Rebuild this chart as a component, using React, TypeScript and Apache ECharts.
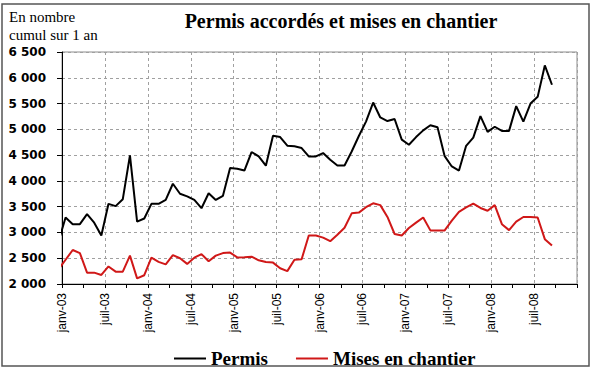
import React, { useEffect, useRef } from "react";
import * as echarts from "echarts";

const monthNames = ["janv", "févr", "mars", "avr", "mai", "juin", "juil", "août", "sept", "oct", "nov", "déc"];

// Months from déc-02 to sept-08 (70 months)
const months: string[] = [];
for (let k = 0; k < 70; k++) {
  const m = (11 + k) % 12;
  const y = 2 + Math.floor((11 + k) / 12);
  months.push(`${monthNames[m]}-${String(y).padStart(2, "0")}`);
}

const xTickLabels = [
  "janv-03", "juil-03", "janv-04", "juil-04", "janv-05", "juil-05",
  "janv-06", "juil-06", "janv-07", "juil-07", "janv-08", "juil-08",
];

const permis = [
  2820,
  3290, 3160, 3160, 3355, 3190, 2940, 3555, 3510, 3645, 4495,
  3210, 3270, 3555, 3555, 3630, 3945, 3750, 3700, 3630, 3470,
  3760, 3630, 3710, 4250, 4235, 4200, 4560, 4475, 4295, 4877,
  4850, 4683, 4670, 4637, 4475, 4475, 4540, 4410, 4300, 4300,
  4570, 4870, 5150, 5520, 5230, 5160, 5200, 4800, 4700, 4850,
  4980, 5080, 5040, 4480, 4280, 4200, 4680, 4840, 5255, 4950,
  5050, 4970, 4970, 5450, 5150, 5500, 5630, 6240, 5865,
];

const mises = [
  2280,
  2470, 2660, 2600, 2220, 2220, 2175, 2340, 2240, 2240, 2550,
  2110, 2170, 2510, 2430, 2380, 2560, 2500, 2390, 2510, 2580,
  2440, 2550, 2600, 2610, 2515, 2520, 2530, 2460, 2425, 2415,
  2305, 2250, 2470, 2480, 2940, 2940, 2900, 2830, 2955, 3090,
  3370, 3385, 3490, 3565, 3530, 3300, 2970, 2940, 3085, 3190,
  3290, 3040, 3037, 3040, 3230, 3400, 3485, 3560, 3475, 3420,
  3530, 3160, 3045, 3210, 3300, 3300, 3290, 2870, 2745,
];

// x position: months since janv-03, plotted at mid-month
const toPoints = (vals: number[]) => vals.map((v, k) => [k - 0.5, v, months[k]]);

export default function App() {
  const ref = useRef<HTMLDivElement>(null);
  useEffect(() => {
    if (!ref.current) return;
    const chart = echarts.init(ref.current, null, { renderer: "svg" });
    chart.setOption({
      animation: false,
      backgroundColor: "#ffffff",
      grid: {
        left: 62, right: 23, top: 52, bottom: 88,
        show: true, borderColor: "#8c8c8c", borderWidth: 1, backgroundColor: "transparent",
      },
      graphic: [
        {
          type: "rect", shape: { x: 2, y: 4, width: 587, height: 362 },
          style: { fill: "none", stroke: "#555555", lineWidth: 1.5 }, silent: true, z: 100,
        },
        {
          type: "text", x: 341, y: 21,
          style: {
            text: "Permis accordés et mises en chantier", fill: "#000",
            font: "bold 20px 'Liberation Serif', serif", align: "center", verticalAlign: "middle",
          },
        },
        {
          type: "text", x: 9, y: 17,
          style: {
            text: "En nombre", fill: "#000",
            font: "15px 'Liberation Serif', serif", align: "left", verticalAlign: "middle",
          },
        },
        {
          type: "text", x: 9, y: 35,
          style: {
            text: "cumul sur 1 an", fill: "#000",
            font: "15px 'Liberation Serif', serif", align: "left", verticalAlign: "middle",
          },
        },
      ],
      legend: {
        left: 169, top: 344,
        itemWidth: 32, itemHeight: 2, itemGap: 28,
        icon: "rect",
        textStyle: { fontFamily: "'Liberation Serif', serif", fontWeight: "bold", fontSize: 19, color: "#000" },
        data: ["Permis", "Mises en chantier"],
      },
      xAxis: {
        type: "value", min: 0, max: 72, interval: 6,
        axisLine: { show: true, lineStyle: { color: "#000", width: 1 } },
        axisTick: { show: true, length: 4, lineStyle: { color: "#000" } },
        minorTick: { show: true, splitNumber: 2, length: 4, lineStyle: { color: "#000" } },
        splitLine: { show: true, lineStyle: { color: "#a0a0a0", type: [3, 3], width: 1 } },
        axisLabel: {
          rotate: 90, margin: 9, color: "#000",
          fontFamily: "'Liberation Sans', Arial, sans-serif", fontSize: 12,
          formatter: (v: number) => {
            const k = Math.round(v / 6);
            return k < xTickLabels.length ? xTickLabels[k] : "";
          },
        },
      },
      yAxis: {
        type: "value", min: 2000, max: 6500, interval: 500,
        axisLine: { show: true, lineStyle: { color: "#000", width: 1 } },
        axisTick: { show: true, length: 5, lineStyle: { color: "#000" } },
        splitLine: { show: true, lineStyle: { color: "#a0a0a0", type: [3, 3], width: 1 } },
        axisLabel: {
          margin: 16, color: "#000",
          fontFamily: "'DejaVu Sans', sans-serif", fontSize: 12, fontWeight: "bold",
          formatter: (v: number) => `${Math.floor(v / 1000)} ${String(v % 1000).padStart(3, "0")}`,
        },
      },
      series: [
        {
          name: "Permis", type: "line", data: toPoints(permis), showSymbol: false, clip: true,
          lineStyle: { color: "#000000", width: 2 }, itemStyle: { color: "#000000" },
        },
        {
          name: "Mises en chantier", type: "line", data: toPoints(mises), showSymbol: false, clip: true,
          lineStyle: { color: "#d01818", width: 2 }, itemStyle: { color: "#d01818" },
        },
      ],
    });
    return () => chart.dispose();
  }, []);
  return (
    <div
      ref={ref}
      style={{ position: "fixed", left: 0, top: 0, width: 600, height: 372, background: "#fff" }}
    />
  );
}
